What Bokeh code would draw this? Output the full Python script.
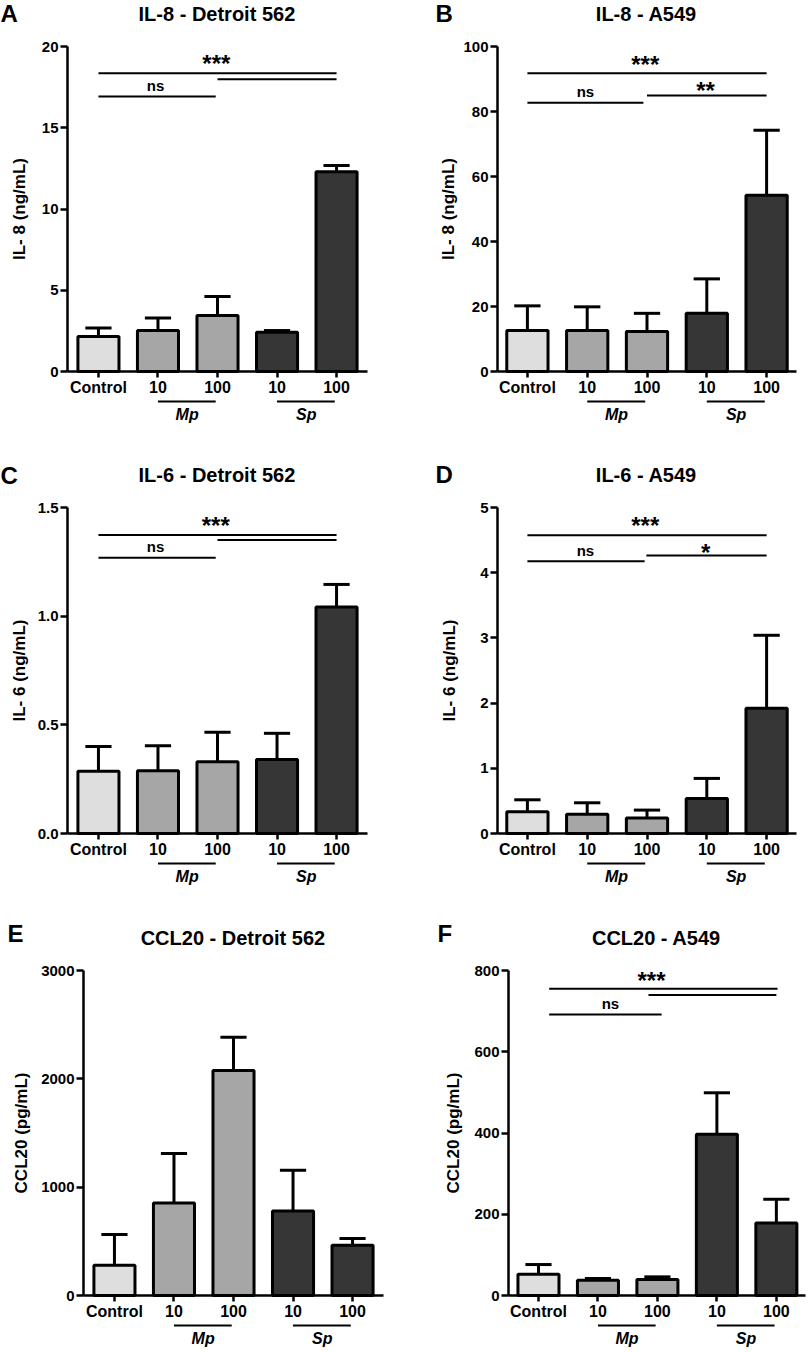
from bokeh.plotting import figure
from bokeh.layouts import column, row
from bokeh.models import Range1d, FixedTicker, Label, LinearAxis, NumeralTickFormatter
from bokeh.embed import file_html
from bokeh.resources import INLINE

# ---------------- data ----------------
tick_labels = ["Control", "10", "100", "10", "100"]
bar_colors = ["#dedede", "#a6a6a6", "#a6a6a6", "#363636", "#363636"]
group_names = ["Mp", "Sp"]

il8_detroit_mean = [2.15, 2.52, 3.45, 2.42, 12.29]
il8_detroit_upper = [2.67, 3.30, 4.62, 2.52, 12.68]

il8_a549_mean = [12.6, 12.6, 12.3, 17.9, 54.2]
il8_a549_upper = [20.2, 19.9, 17.9, 28.5, 74.2]

il6_detroit_mean = [0.286, 0.289, 0.33, 0.34, 1.042]
il6_detroit_upper = [0.40, 0.404, 0.466, 0.461, 1.146]

il6_a549_mean = [0.333, 0.297, 0.236, 0.538, 1.92]
il6_a549_upper = [0.517, 0.471, 0.359, 0.845, 3.04]

ccl20_detroit_mean = [280, 855, 2078, 781, 464]
ccl20_detroit_upper = [562, 1310, 2385, 1156, 526]

ccl20_a549_mean = [52.5, 37.7, 39.3, 396.7, 178.7]
ccl20_a549_upper = [76.2, 41.8, 45.9, 499, 236.9]

y_ticks_A = [0, 5, 10, 15, 20]
y_ticks_B = [0, 20, 40, 60, 80, 100]
y_ticks_C = [0, 0.5, 1.0, 1.5]
y_ticks_D = [0, 1, 2, 3, 4, 5]
y_ticks_E = [0, 1000, 2000, 3000]
y_ticks_F = [0, 200, 400, 600, 800]

# significance bars: (x_start, x_end, y); texts: (text, x, y)
sig_lines_A = [(0, 4, 18.35), (2.0, 4, 17.98), (0, 1.97, 16.92)]
sig_text_A = [("***", 1.98, 19.11), ("ns", 0.96, 17.25)]
sig_lines_B = [(0, 4, 91.8), (0, 1.94, 82.7), (2.0, 4, 84.9)]
sig_text_B = [("***", 1.97, 95.45), ("ns", 0.97, 84.4), ("**", 2.98, 87.4)]
sig_lines_C = [(0, 4, 1.373), (2.0, 4, 1.350), (0, 1.97, 1.269)]
sig_text_C = [("***", 1.97, 1.431), ("ns", 0.96, 1.294)]
sig_lines_D = [(0, 4, 4.575), (0, 1.96, 4.177), (1.99, 4, 4.264)]
sig_text_D = [("***", 1.97, 4.77), ("ns", 0.97, 4.264), ("*", 2.98, 4.363)]
sig_lines_F = [(0.18, 4.02, 755), (1.85, 4.0, 740), (0.18, 2.07, 692)]
sig_text_F = [("***", 1.9, 782.8), ("ns", 1.21, 705.7)]

FONT = "Liberation Sans"
xs = list(range(len(tick_labels)))
LIFT = 0.36  # baseline correction, in font-size units


def make_panel(letter, title, ylabel, mean, upper, yticks, sig_lines, sig_text,
               col_x, row_y, width, height, L, R, T, B, xr, ymax,
               label_standoff, fmt=None):
    # pixel <-> data mapping of the plotting area (axes box L..R, T..B)
    xscale = (R - L) / (xr[1] - xr[0])
    yscale = (B - T) / ymax

    def X(px):
        return xr[0] + (px - L) / xscale

    def Y(py):
        return (B - py) / yscale

    def PY(y):
        return B - y * yscale

    p = figure(width=width, height=height,
               x_range=Range1d(X(col_x), X(col_x + width)),
               y_range=Range1d(Y(row_y + height), Y(row_y)),
               output_backend="svg", toolbar_location=None, title=None,
               x_axis_location=None, y_axis_location=None, min_border=0)
    p.min_border_left = 0
    p.min_border_right = 0
    p.min_border_top = 0
    p.min_border_bottom = 0
    p.outline_line_color = None
    p.xgrid.visible = False
    p.ygrid.visible = False
    p.background_fill_color = "white"
    p.border_fill_color = "white"

    def text(x, py, s, size, style="bold", align="center"):
        p.add_layout(Label(x=x, y=Y(py), text=s, text_align=align,
                           text_baseline="alphabetic", text_font=FONT,
                           text_font_size=f"{size}px", text_font_style=style,
                           text_color="black"))

    # error bars
    p.segment(x0=xs, y0=mean, x1=xs, y1=upper, line_color="black", line_width=3)
    p.segment(x0=[x - 0.22 for x in xs], y0=upper, x1=[x + 0.22 for x in xs], y1=upper,
              line_color="black", line_width=3)
    # bars
    p.vbar(x=xs, top=mean, width=0.69, fill_color=bar_colors, line_color="black",
           line_width=3)

    # significance
    for x0, x1, yv in sig_lines:
        p.segment(x0=[x0], y0=[yv], x1=[x1], y1=[yv], line_color="black", line_width=2)
    for s, xv, yv in sig_text:
        if s == "ns":
            text(xv, PY(yv) - LIFT * 15, s, 15)
        else:
            text(xv, PY(yv) + 3, s, 24)

    # axes
    xa = LinearAxis(fixed_location=0, bounds=(xr[0], xr[1]))
    xa.ticker = FixedTicker(ticks=xs, minor_ticks=[])
    xa.major_label_overrides = {i: t for i, t in enumerate(tick_labels)}
    xa.axis_line_width = 2.5
    xa.major_tick_line_width = 2.5
    xa.major_tick_out = 6
    xa.major_tick_in = 0
    xa.minor_tick_line_color = None
    xa.major_label_text_font = FONT
    xa.major_label_text_font_size = "16px"
    xa.major_label_text_font_style = "bold"
    xa.major_label_text_color = "black"
    xa.major_label_standoff = 1
    p.add_layout(xa, "below")

    ya = LinearAxis(fixed_location=xr[0], bounds=(0, ymax))
    ya.ticker = FixedTicker(ticks=yticks, minor_ticks=[])
    if fmt is not None:
        ya.formatter = fmt
    ya.axis_line_width = 2.5
    ya.major_tick_line_width = 2.5
    ya.major_tick_out = 7
    ya.major_tick_in = 0
    ya.minor_tick_line_color = None
    ya.major_label_text_font = FONT
    ya.major_label_text_font_size = "15px"
    ya.major_label_text_font_style = "bold"
    ya.major_label_text_color = "black"
    ya.major_label_standoff = 2
    ya.axis_label = ylabel
    ya.axis_label_text_font = FONT
    ya.axis_label_text_font_size = "17px"
    ya.axis_label_text_font_style = "bold"
    ya.axis_label_text_color = "black"
    ya.axis_label_standoff = label_standoff
    p.add_layout(ya, "left")

    # group underlines and names below the axis
    for k, name in enumerate(group_names):
        a = 1 + 2 * k
        p.segment(x0=[a], y0=[Y(B + 30)], x1=[a + 0.97], y1=[Y(B + 30)],
                  line_color="black", line_width=2)
        text(a + 0.49, B + 48.5 - LIFT * 16, name, 16, style="bold italic")

    # title and panel letter
    text((xr[0] + xr[1]) / 2 - 0.01, T - 25.5 - LIFT * 20, title, 20)
    text(X(letter[1]), letter[2] - LIFT * 24, letter[0], 24, align="left")
    return p


LW, RW = 405, 405
ROW1, ROW2, ROW3 = 0, 445, 890
H1, H2, H3 = 445, 445, 462

pA = make_panel(("A", 0, 21.7), "IL-8 - Detroit 562", "IL- 8 (ng/mL)",
                il8_detroit_mean, il8_detroit_upper, y_ticks_A, sig_lines_A, sig_text_A,
                0, ROW1, LW, H1, 67, 367, 46, 371, (-0.52, 4.52), 20, 10)
pB = make_panel(("B", 435, 22), "IL-8 - A549", "IL- 8 (ng/mL)",
                il8_a549_mean, il8_a549_upper, y_ticks_B, sig_lines_B, sig_text_B,
                405, ROW1, RW, H1, 497, 796, 46, 371, (-0.50, 4.50), 100, 2)
pC = make_panel(("C", 0, 483.3), "IL-6 - Detroit 562", "IL- 6 (ng/mL)",
                il6_detroit_mean, il6_detroit_upper, y_ticks_C, sig_lines_C, sig_text_C,
                0, ROW2, LW, H2, 67, 367, 507, 833, (-0.52, 4.52), 1.5, 6,
                fmt=NumeralTickFormatter(format="0.0"))
pD = make_panel(("D", 435, 483), "IL-6 - A549", "IL- 6 (ng/mL)",
                il6_a549_mean, il6_a549_upper, y_ticks_D, sig_lines_D, sig_text_D,
                405, ROW2, RW, H2, 497, 796, 507, 833, (-0.50, 4.50), 5, 18)
pE = make_panel(("E", 7, 941.7), "CCL20 - Detroit 562", "CCL20 (pg/mL)",
                ccl20_detroit_mean, ccl20_detroit_upper, y_ticks_E, [], [],
                0, ROW3, LW, H3, 83, 383, 970, 1295, (-0.52, 4.52), 3000, 7)
pF = make_panel(("F", 437, 941.7), "CCL20 - A549", "CCL20 (pg/mL)",
                ccl20_a549_mean, ccl20_a549_upper, y_ticks_F, sig_lines_F, sig_text_F,
                405, ROW3, RW, H3, 508, 805, 970, 1295, (-0.504, 4.49), 800, 8)

layout = column(row(pA, pB), row(pC, pD), row(pE, pF))
open("out.html", "w").write(file_html(layout, INLINE))
